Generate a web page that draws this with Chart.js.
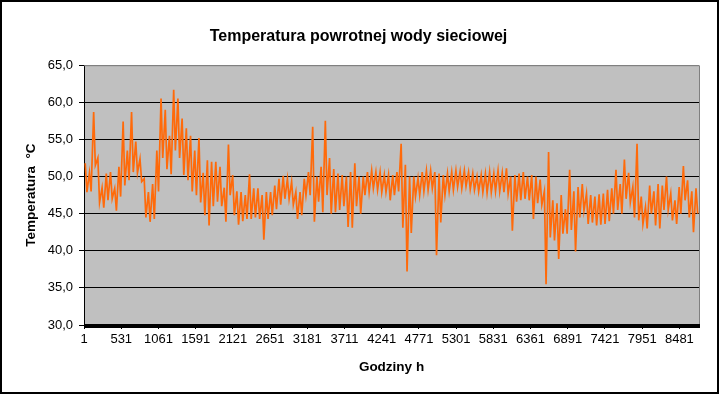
<!DOCTYPE html>
<html>
<head>
<meta charset="utf-8">
<script src="https://cdn.jsdelivr.net/npm/chart.js@4/dist/chart.umd.min.js"></script>
<style>
  html, body { margin: 0; padding: 0; background: #fff; }
  canvas { display: block; }
</style>
</head>
<body>
<canvas id="chart" width="722" height="395"></canvas>
<script>
const STEP = 60
const upper = [
  51.8, 50.5, 58.7, 52.5, 48.5, 50.4, 50.6, 48.4, 51.3, 57.4,
  53.5, 58.7, 54.7, 52.4, 49.7, 47.9, 49.0, 53.5, 60.5, 59.0,
  55.5, 61.7, 60.5, 57.8, 56.5, 55.5, 53.5, 55.2, 50.5, 52.2,
  52.0, 52.0, 51.3, 48.5, 54.3, 50.2, 48.0, 47.9, 47.5, 50.3,
  48.4, 48.4, 47.5, 47.9, 47.9, 48.8, 49.7, 50.1, 49.7, 49.3,
  47.9, 47.9, 49.7, 50.6, 56.7, 50.0, 51.3, 57.5, 52.5, 51.0,
  50.4, 50.2, 50.0, 50.6, 51.8, 50.0, 50.0, 50.6, 50.8, 50.6,
  50.6, 50.2, 50.2, 50.2, 50.6, 54.4, 51.6, 50.0, 50.0, 49.8,
  50.6, 50.8, 50.8, 50.6, 50.4, 50.2, 50.4, 50.6, 50.8, 50.7,
  50.8, 50.6, 50.4, 50.0, 50.2, 50.4, 50.6, 50.4, 50.8, 50.5,
  51.1, 50.0, 50.2, 50.4, 50.6, 50.0, 50.2, 50.0, 49.6, 48.0,
  53.3, 46.8, 46.4, 47.5, 45.6, 50.9, 48.0, 48.6, 49.0, 47.7,
  47.5, 47.3, 47.6, 47.7, 48.2, 48.4, 50.9, 49.0, 52.3, 50.5,
  48.6, 54.4, 47.3, 45.9, 48.8, 48.0, 49.0, 48.8, 50.0, 47.7,
  46.8, 48.6, 51.4, 49.5, 48.0, 48.4
]
const lower = [
  47.9, 48.0, 51.5, 46.5, 45.8, 46.8, 47.0, 45.4, 47.3, 48.8,
  49.5, 50.6, 50.5, 49.3, 44.5, 43.9, 44.3, 48.0, 52.5, 51.0,
  50.3, 53.5, 52.5, 50.2, 49.5, 48.0, 47.5, 46.5, 44.8, 43.4,
  46.0, 46.6, 46.0, 43.9, 47.5, 44.8, 43.5, 44.0, 44.3, 44.3,
  44.5, 44.3, 41.5, 44.3, 44.8, 45.6, 46.2, 47.0, 47.0, 46.2,
  44.3, 44.8, 47.5, 47.5, 43.9, 46.6, 45.2, 47.5, 45.0, 45.2,
  45.5, 46.0, 43.2, 43.1, 46.0, 45.0, 47.5, 47.9, 48.4, 48.2,
  47.9, 47.9, 46.8, 47.5, 48.0, 43.1, 37.2, 42.4, 47.3, 47.5,
  48.0, 48.2, 48.4, 39.4, 43.8, 47.5, 48.0, 48.2, 48.6, 48.4,
  48.7, 48.3, 48.2, 48.0, 47.9, 47.8, 47.9, 48.0, 48.0, 47.9,
  47.7, 42.7, 46.6, 46.8, 47.0, 46.8, 44.3, 46.4, 46.2, 35.5,
  41.8, 41.4, 38.9, 42.3, 42.3, 42.8, 39.9, 44.5, 45.4, 43.6,
  43.8, 43.4, 43.5, 43.6, 44.0, 45.0, 45.5, 45.0, 47.0, 46.5,
  44.5, 44.1, 43.6, 43.0, 45.0, 43.4, 43.0, 45.5, 45.5, 44.1,
  43.6, 45.0, 46.8, 44.5, 42.5, 45.0
]
const hourTicks = [1, 531, 1061, 1591, 2121, 2651, 3181, 3711, 4241, 4771, 5301, 5831, 6361, 6891, 7421, 7951, 8481]
const HOURS = 8760
const yMin = 30
const yMax = 65

const FONT = "'Liberation Sans', Arial, sans-serif"

let points = []
upper.forEach((hi, i) => {
  points.push({ x: i * STEP + 18, y: hi })
  points.push({ x: i * STEP + 42, y: lower[i] })
})

const frame = {
  id: 'frame',
  beforeDraw(chart) {
    const { ctx, chartArea: a } = chart
    ctx.save()
    ctx.fillStyle = '#ffffff'
    ctx.fillRect(0, 0, chart.width, chart.height)
    ctx.fillStyle = '#c0c0c0'
    ctx.fillRect(a.left, a.top, a.right - a.left, a.bottom - a.top)
    ctx.restore()
  },
  afterDraw(chart) {
    const { ctx, chartArea: a } = chart
    ctx.save()
    ctx.strokeStyle = '#808080'
    ctx.lineWidth = 1
    ctx.beginPath()
    ctx.moveTo(a.left, a.top + 0.5)
    ctx.lineTo(a.right + 0.5, a.top + 0.5)
    ctx.lineTo(a.right + 0.5, a.bottom)
    ctx.stroke()
    // heavy category axis line
    ctx.fillStyle = '#000'
    ctx.fillRect(a.left, a.bottom - 1, a.right - a.left + 1, 4)
    // chart border
    ctx.strokeStyle = '#000'
    ctx.lineWidth = 2
    ctx.strokeRect(1, 1, 717, 392)
    ctx.restore()
  }
}

new Chart(document.getElementById('chart'), {
  type: 'line',
  data: {
    datasets: [{
      data: points,
      borderColor: '#ff6a0a',
      borderWidth: 1.7,
      borderJoinStyle: 'miter',
      pointRadius: 0,
      tension: 0
    }]
  },
  options: {
    responsive: false,
    animation: false,
    layout: { padding: { left: 0, right: 5, top: 0, bottom: 0 } },
    plugins: {
      legend: { display: false },
      tooltip: { enabled: false },
      title: {
        display: true,
        text: 'Temperatura powrotnej wody sieciowej',
        color: '#000',
        font: { family: FONT, size: 16, weight: 'bold' },
        padding: { top: 27, bottom: 19 }
      }
    },
    scales: {
      x: {
        type: 'linear',
        min: 0.5,
        max: HOURS + 0.5,
        afterBuildTicks: (s) => { s.ticks = hourTicks.map(v => ({ value: v })) },
        afterFit: (s) => { s.height = 70 },
        ticks: {
          autoSkip: false,
          maxRotation: 0,
          padding: 3,
          color: '#000',
          font: { family: FONT, size: 13 },
          callback: (v) => String(v)
        },
        grid: { drawOnChartArea: false, tickLength: 4, color: '#000' },
        border: { display: false },
        title: {
          display: true,
          text: 'Godziny h',
          color: '#000',
          font: { family: FONT, size: 13.5, weight: 'bold' },
          padding: { top: 0, bottom: 20 }
        }
      },
      y: {
        min: yMin,
        max: yMax,
        afterFit: (s) => { s.width = 84 },
        ticks: {
          stepSize: 5,
          padding: 6,
          color: '#000',
          font: { family: FONT, size: 13 },
          callback: (v) => v.toFixed(1).replace('.', ',')
        },
        grid: {
          color: (c) => c.tick && c.tick.value === yMax ? '#808080' : '#000',
          tickColor: '#000',
          tickLength: 5
        },
        border: { color: '#000' },
        title: {
          display: true,
          text: 'Temperatura  °C',
          color: '#000',
          font: { family: FONT, size: 13.5, weight: 'bold' },
          padding: { top: 23, bottom: 0 }
        }
      },
      // empty right-hand strip so the plot ends where the reference's does
      spacer: {
        type: 'linear',
        position: 'right',
        min: yMin,
        max: yMax,
        afterFit: (s) => { s.width = 18 },
        ticks: { display: false },
        grid: { display: false, drawOnChartArea: false },
        border: { display: false }
      }
    }
  },
  plugins: [frame]
})
</script>
</body>
</html>
